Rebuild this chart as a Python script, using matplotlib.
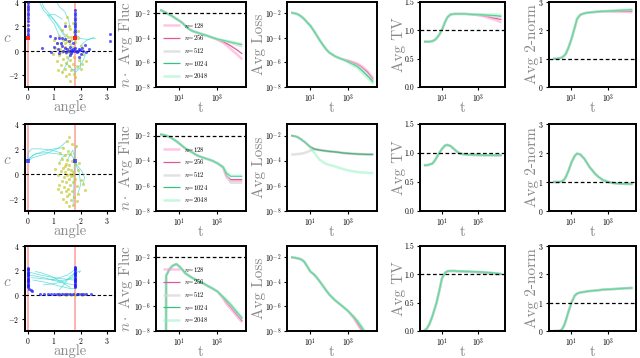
import numpy as np
import matplotlib
matplotlib.use('Agg')
import matplotlib.pyplot as plt

plt.rcParams['font.family'] = ['cmr10', 'DejaVu Serif']
plt.rcParams['mathtext.fontset'] = 'cm'
plt.rcParams['axes.formatter.use_mathtext'] = True

# ---------------- data ----------------
N_LIST = [128, 256, 512, 1024, 2048]
T = [1, 1.5, 2, 3, 4, 5, 7, 10, 15, 20, 30, 50, 70, 100, 200, 300, 500,
     1000, 2000, 3000, 5000, 10000, 20000]
T_F3 = [2, 2.05, 3, 4, 5, 7, 10, 15, 20, 30, 50, 70, 100, 200, 300, 500, 1000,
        2000, 3000, 5000, 10000, 20000]

# log10 values (log panels), common part t=1..500, tails t=1000..20000
fluc_r1_common = [-1.73, -1.85, -1.95, -2.1, -2.2, -2.3, -2.45, -2.6, -2.8, -3.0,
                  -3.25, -3.45, -3.52, -3.6, -3.75, -3.83, -3.96]
fluc_r1_tail = {128: [-4.15, -4.4, -4.6, -4.9, -5.3, -5.75],
                256: [-4.12, -4.3, -4.45, -4.65, -4.95, -5.3],
                512: [-4.1, -4.22, -4.3, -4.42, -4.55, -4.7],
                1024: [-4.1, -4.2, -4.27, -4.35, -4.45, -4.55],
                2048: [-4.1, -4.2, -4.25, -4.3, -4.4, -4.5]}
loss_r1_common = [-1.95, -2.0, -2.05, -2.2, -2.35, -2.5, -2.75, -3.0, -3.4, -3.7,
                  -4.15, -4.65, -4.95, -5.2, -5.5, -5.62, -5.75]
loss_r1_tail = {128: [-5.85, -6.0, -6.1, -6.3, -6.7, -7.3],
                256: [-5.88, -6.05, -6.17, -6.4, -6.8, -7.4],
                512: [-5.92, -6.12, -6.25, -6.5, -6.95, -7.5],
                1024: [-5.97, -6.2, -6.35, -6.65, -7.1, -7.6],
                2048: [-6.02, -6.3, -6.45, -6.8, -7.25, -7.75]}
tv_r1_common = [0.80, 0.80, 0.80, 0.81, 0.83, 0.86, 0.92, 1.01, 1.15, 1.23,
                1.28, 1.29, 1.29, 1.29, 1.29, 1.285, 1.28]
tv_r1_tail = {128: [1.265, 1.25, 1.23, 1.21, 1.18, 1.14],
              256: [1.27, 1.26, 1.25, 1.23, 1.21, 1.19],
              512: [1.275, 1.27, 1.26, 1.25, 1.24, 1.23],
              1024: [1.28, 1.275, 1.27, 1.265, 1.26, 1.25],
              2048: [1.28, 1.28, 1.28, 1.28, 1.28, 1.27]}
norm_r1_common = [1.0, 1.0, 1.01, 1.04, 1.1, 1.18, 1.4, 1.7, 2.1, 2.4,
                  2.55, 2.6, 2.62, 2.63, 2.65, 2.66, 2.67]
norm_r1_tail = {128: [2.66, 2.66, 2.65, 2.65, 2.65, 2.64],
                256: [2.67, 2.67, 2.67, 2.67, 2.67, 2.67],
                512: [2.68, 2.69, 2.69, 2.7, 2.7, 2.71],
                1024: [2.68, 2.69, 2.7, 2.71, 2.72, 2.73],
                2048: [2.69, 2.7, 2.71, 2.72, 2.73, 2.75]}

fluc_r2_common = [-1.9, -1.95, -2.0, -2.1, -2.2, -2.3, -2.45, -2.63, -2.85, -3.0,
                  -3.17, -3.35, -3.5, -3.62, -3.78, -3.87, -3.98]
fluc_r2_tail = {128: [-4.2, -4.55, -5.3, -5.6, -5.6, -5.6],
                256: [-4.2, -4.55, -5.2, -5.5, -5.5, -5.5],
                512: [-4.2, -4.5, -5.2, -5.75, -5.75, -5.75],
                1024: [-4.2, -4.5, -5.0, -5.25, -5.25, -5.25],
                2048: [-4.2, -4.5, -4.9, -5.2, -5.2, -5.2]}
loss_r2_A = [-2.0, -2.05, -2.1, -2.25, -2.4, -2.5, -2.7, -2.9, -3.05, -3.1, -3.15,
             -3.2, -3.23, -3.26, -3.3, -3.33, -3.38, -3.42, -3.45, -3.47, -3.48,
             -3.5, -3.5]
loss_r2_B_early = [-3.5, -3.5, -3.48, -3.45, -3.42, -3.38, -3.3, -3.2, -3.1, -3.1]
loss_r2_C = [-2.0, -2.05, -2.1, -2.25, -2.4, -2.5, -2.7, -2.95, -3.3, -3.55, -3.9,
             -4.15, -4.25, -4.33, -4.45, -4.55, -4.65, -4.78, -4.85, -4.9, -4.93,
             -4.96, -4.98]
tv_r2 = [0.79, 0.79, 0.80, 0.82, 0.87, 0.92, 1.0, 1.07, 1.13, 1.14, 1.12, 1.06,
         1.02, 0.99, 0.975, 0.97, 0.968, 0.965, 0.963, 0.962, 0.961, 0.96, 0.96]
norm_r2 = [1.0, 1.0, 1.0, 1.02, 1.08, 1.18, 1.4, 1.68, 1.9, 1.98, 1.95, 1.8, 1.65,
           1.5, 1.27, 1.17, 1.07, 1.0, 0.96, 0.95, 0.94, 0.935, 0.93]

fluc_r3_common = [-12.0, -3.5, -3.0, -2.76, -2.65, -2.55, -2.74, -3.03, -3.28,
                  -3.47, -3.69, -3.8, -3.96, -4.15, -4.32, -4.5, -4.78]
fluc_r3_tail = {128: [-5.35, -5.8, -6.2, -6.75, -7.3],
                256: [-5.3, -5.65, -6.05, -6.62, -7.17],
                512: [-5.25, -5.55, -5.93, -6.5, -7.05],
                1024: [-5.22, -5.5, -5.85, -6.42, -6.97],
                2048: [-5.2, -5.45, -5.8, -6.35, -6.9]}
loss_r3_common = [-2.0, -2.03, -2.07, -2.14, -2.25, -2.4, -2.75, -3.15, -3.37,
                  -3.58, -3.92, -4.4, -4.72, -5.03, -5.5, -5.72, -6.0]
loss_r3_tail = {128: [-6.4, -7.0, -7.45, -8.0, -8.9, -9.6],
                256: [-6.4, -6.95, -7.35, -7.9, -8.7, -9.4],
                512: [-6.4, -6.9, -7.25, -7.8, -8.5, -9.2],
                1024: [-6.4, -6.87, -7.2, -7.7, -8.4, -9.1],
                2048: [-6.4, -6.85, -7.15, -7.6, -8.3, -9.0]}
tv_r3_common = [0.0, 0.05, 0.12, 0.27, 0.4, 0.5, 0.7, 0.93, 1.03, 1.055, 1.06,
                1.06, 1.055, 1.055, 1.05, 1.05, 1.045]
tv_r3_tail = {128: [1.035, 1.025, 1.02, 1.015, 1.005, 1.0],
              256: [1.04, 1.03, 1.025, 1.02, 1.01, 1.005],
              512: [1.04, 1.035, 1.03, 1.025, 1.015, 1.005],
              1024: [1.045, 1.04, 1.035, 1.03, 1.02, 1.01],
              2048: [1.045, 1.04, 1.035, 1.03, 1.02, 1.01]}
norm_r3 = [0.0, 0.0, 0.0, 0.05, 0.2, 0.38, 0.7, 1.0, 1.25, 1.32, 1.36, 1.38, 1.4,
           1.41, 1.43, 1.44, 1.46, 1.47, 1.48, 1.49, 1.5, 1.51, 1.52]

# ---- column 1 scatter data ----
yellow_r1 = [(1.5, 2.8), (1.4, 2.3), (1.55, 2.0), (1.6, 1.8), (1.3, 1.7), (1.75, 1.5),
             (1.45, 1.3), (1.2, 1.2), (1.65, 1.1), (1.9, 1.0), (1.35, 0.9), (1.5, 0.8),
             (1.8, 0.7), (1.1, 0.6), (1.25, 0.5), (1.6, 0.5), (2.0, 0.4), (1.4, 0.3),
             (1.7, 0.3), (1.05, 0.2), (1.55, 0.1), (1.85, 0.0), (1.3, -0.1), (1.45, -0.2),
             (1.65, -0.2), (2.1, -0.3), (1.2, -0.4), (1.5, -0.5), (1.75, -0.5),
             (1.35, -0.7), (1.6, -0.8), (1.95, -0.8), (1.1, -0.9), (1.45, -1.0),
             (1.7, -1.1), (1.25, -1.2), (1.55, -1.3), (1.85, -1.3), (1.4, -1.5),
             (1.65, -1.6), (2.0, -1.5), (1.3, -1.8), (1.55, -1.9), (1.75, -1.9),
             (1.45, -2.1), (1.6, -2.5), (2.2, -0.9), (0.95, -0.3), (1.15, -1.6),
             (1.9, 1.6), (1.8, -2.2), (2.05, -1.1), (1.0, 0.9), (1.7, 2.3), (1.35, 0.0),
             (1.58, -0.1), (1.52, 1.1), (1.23, 0.1), (1.62, 0.9), (1.42, 0.6)]
blue_r1 = [(0, 3.9), (0, 3.7), (0, 3.5), (0, 3.3), (0, 3.1), (0, 2.9), (0, 2.7),
           (0, 2.4), (0, 2.1), (0, 1.8), (0, 1.6), (0, 1.4), (0, 1.2), (0, 1.0),
           (1.78, 3.3), (1.78, 3.1), (1.78, 2.9), (1.78, 2.7), (1.78, 2.5), (1.78, 2.3),
           (1.78, 2.1), (1.78, 1.9), (1.78, 1.7), (1.78, 1.5), (1.78, 1.3), (1.78, 1.1),
           (1.0, 0.3), (1.1, 0.6), (1.15, 0.1), (1.2, -0.2), (1.3, 0.4), (1.35, 0.0),
           (1.4, 0.2), (1.45, -0.1), (1.5, 0.1), (1.55, 0.0), (1.6, 0.3), (1.65, -0.2),
           (1.7, 0.1), (1.75, 0.0), (1.8, 0.2), (1.85, -0.1), (1.9, 0.0), (1.95, 0.1),
           (2.0, -0.3), (2.05, 0.2), (2.1, 0.0), (2.2, -0.1), (2.3, 0.1), (0.55, 0.2),
           (0.9, -0.1), (1.25, 0.6), (1.05, 1.0), (1.3, 1.0), (1.4, 0.95), (1.7, 0.6),
           (1.55, 0.75), (2.15, 0.45), (1.95, -0.5), (1.6, -0.4), (0.85, 1.2),
           (1.2, 1.05), (1.4, 2.0), (3.1, 1.4), (3.1, 0.8), (1.62, 0.05), (1.82, -0.05),
           (1.98, 0.05), (1.68, -0.02)]
traj_r1 = [[(1.5, 0.8), (1.3, 1.5), (1.0, 2.5), (0.6, 3.3), (0.4, 4.2)],
           [(1.4, 1.3), (1.2, 2.0), (0.9, 2.8), (0.6, 3.6), (0.5, 4.2)],
           [(1.6, 1.8), (1.55, 2.5), (1.4, 3.2), (1.2, 3.6), (1.05, 4.2)],
           [(1.8, 0.7), (1.9, 1.2), (2.0, 1.0), (2.3, 0.9), (2.5, 1.1)],
           [(1.65, -1.6), (1.9, -1.5), (2.1, -0.8), (2.2, -0.2)],
           [(1.3, -1.8), (1.5, -1.0), (1.6, -0.3), (1.7, 0.0)],
           [(1.75, 1.5), (1.78, 2.3), (1.78, 3.0)],
           [(1.2, 1.2), (1.0, 2.2), (0.75, 2.9), (1.0, 3.0), (1.3, 2.6)],
           [(2.0, 0.4), (2.2, 0.8), (2.4, 1.0), (2.55, 1.0)],
           [(1.45, -1.0), (1.8, -1.8), (2.0, -1.4), (2.0, -0.6)]]
red_r1 = [(0, 1.0), (1.78, 1.0)]

yellow_r2 = [(1.56, 2.95), (1.47, 2.6), (1.66, 2.4), (1.34, 2.1), (1.84, 2.26),
             (1.22, 1.7), (1.53, 1.85), (1.40, 1.5), (1.60, 1.6), (1.75, 1.3),
             (1.30, 1.2), (1.50, 1.1), (1.68, 1.0), (1.20, 0.9), (1.45, 0.8),
             (1.58, 0.7), (1.80, 0.8), (1.35, 0.5), (1.52, 0.4), (1.65, 0.3),
             (1.25, 0.2), (1.42, 0.1), (1.72, 0.1), (1.90, 0.3), (1.15, -0.1),
             (1.48, -0.1), (1.62, -0.2), (1.38, -0.3), (1.55, -0.4), (1.78, -0.4),
             (2.00, -0.5), (1.28, -0.6), (1.46, -0.7), (1.70, -0.7), (1.18, -0.9),
             (1.60, -0.9), (1.85, -1.0), (1.36, -1.1), (1.52, -1.2), (2.10, -0.8),
             (1.44, -1.4), (1.66, -1.4), (1.25, -1.5), (1.58, -1.6), (1.92, -1.6),
             (1.15, -1.2), (1.50, -1.8), (1.74, -1.9), (1.32, -2.0), (1.62, -2.1),
             (1.88, -2.2), (1.45, -2.3), (1.72, -2.5), (1.55, -2.6), (1.60, 0.0),
             (1.40, 0.6), (1.72, -0.1), (2.15, -1.3), (1.05, 0.4), (1.95, 0.9)]
traj_r2 = [[(1.22, 1.7), (0.9, 1.9), (0.5, 2.0), (0.15, 2.0), (0.02, 1.7), (0, 1.0)],
           [(1.34, 2.1), (1.0, 2.0), (0.6, 1.8), (0.2, 1.5), (0.05, 1.2), (0, 1.0)],
           [(1.4, 1.5), (1.1, 1.6), (0.7, 1.7), (0.3, 1.6), (0.1, 1.3), (0, 1.0)],
           [(1.5, 1.1), (1.6, 1.5), (1.7, 1.9), (1.78, 1.3), (1.77, 1.0)],
           [(1.2, 0.9), (1.3, 1.3), (1.5, 1.6), (1.7, 1.4), (1.77, 1.0)],
           [(2.1, -0.8), (2.15, -0.3), (2.05, 0.2), (1.9, 0.6), (1.77, 1.0)],
           [(1.72, -2.5), (1.74, -1.2), (1.75, 0.0), (1.77, 1.0)],
           [(1.9, -1.6), (2.0, -0.9), (1.95, 0.1), (1.8, 0.8), (1.77, 1.0)],
           [(1.84, 2.26), (1.8, 1.8), (1.78, 1.3), (1.77, 1.0)],
           [(1.47, 2.6), (1.2, 2.1), (0.7, 1.6), (0.2, 1.3), (0, 1.0)]]
blue_r2 = [(0, 1.0), (1.77, 1.0)]

blue_r3 = [(0, 2.2), (0, 2.1), (0, 2.0), (0, 1.9), (0, 1.8), (0, 1.7), (0, 1.6),
           (0, 1.5), (0, 1.4), (0, 1.3), (0, 1.2), (0, 1.1), (0, 1.0), (0, 0.9),
           (0, 0.8), (0, 0.7), (0, 0.6), (0.06, 0.5), (0.13, 0.36), (0.18, 0.28),
           (1.77, 2.3), (1.77, 2.2), (1.77, 2.1), (1.77, 2.0), (1.77, 1.9), (1.77, 1.8),
           (1.77, 1.7), (1.77, 1.6), (1.77, 1.5), (1.77, 1.4), (1.77, 1.3), (1.77, 1.2),
           (1.77, 1.1), (1.77, 1.0), (1.77, 0.9), (1.77, 0.8), (1.77, 0.7), (1.77, 0.6),
           (0.45, 0.05), (0.6, 0.03), (0.75, 0.02), (0.9, 0.03), (1.0, 0.02),
           (1.1, 0.02), (1.2, 0.03), (1.3, 0.02), (1.4, 0.02), (1.5, 0.03), (1.6, 0.02),
           (1.7, 0.03), (1.85, 0.02), (1.9, 0.03), (2.0, 0.02), (2.1, 0.02),
           (2.2, 0.03), (2.4, 0.02)]
yellow_r3 = [(1.2, 0.0), (1.35, 0.02), (1.45, -0.02), (1.55, 0.01), (1.65, 0.0),
             (1.75, 0.02), (1.8, -0.01), (1.95, 0.01), (2.05, 0.0), (2.15, 0.02)]
traj_r3 = [[(0.05, 1.85), (0.5, 1.6), (1.0, 1.4), (1.5, 1.25), (1.75, 1.2)],
           [(0.1, 1.6), (0.6, 1.4), (1.1, 1.1), (1.5, 0.9), (1.75, 0.8)],
           [(0.2, 1.2), (0.7, 1.0), (1.2, 0.7), (1.6, 0.5), (1.76, 0.5)],
           [(0.6, 0.8), (1.0, 0.9), (1.4, 1.1), (1.7, 1.5), (1.76, 1.8)],
           [(0.9, 1.2), (1.2, 1.4), (1.5, 1.6), (1.75, 2.0)],
           [(1.2, 0.4), (1.4, 0.9), (1.6, 1.5), (1.8, 1.8), (2.0, 1.95), (1.95, 1.8)],
           [(0.3, 1.9), (0.5, 1.8), (0.9, 1.5), (1.3, 1.0), (1.6, 0.6)],
           [(0.15, 1.4), (0.8, 1.25), (1.3, 1.15), (1.76, 1.4)]]

# ---------------- styles ----------------
STYLE = {128: dict(color='#ff9fd0', lw=1.8, alpha=0.6),
         256: dict(color='#e0589c', lw=0.9, alpha=1.0),
         512: dict(color='#d6d6d6', lw=1.8, alpha=0.7),
         1024: dict(color='#35c27c', lw=0.9, alpha=1.0),
         2048: dict(color='#8ef2bf', lw=1.8, alpha=0.5)}
LABEL_COLOR = '#8a8a8a'
W, H = 640, 358
COLS = [(25, 115), (156, 246), (287, 377), (420, 505), (549, 636)]
ROWS = [(2, 87), (124, 211), (246, 331)]

fig = plt.figure(figsize=(6.4, 3.58), dpi=100)


def make_ax(r, c):
    l, rr = COLS[c]
    t, b = ROWS[r]
    ax = fig.add_axes([l / W, 1 - b / H, (rr - l) / W, (b - t) / H])
    for s in ax.spines.values():
        s.set_linewidth(1.4)
        s.set_color('black')
    ax.tick_params(labelsize=5.5, length=2.5, width=0.8, pad=1.5)
    return ax


def series_full(common, tail):
    return {n: list(common) + list(tail[n]) for n in N_LIST}


def line_panel(ax, t, data, log, ylabel, dashed=None, legend=False):
    for n in N_LIST:
        y = np.array(data[n], dtype=float)
        if log:
            y = 10.0 ** y
        ax.plot(t, y, label=r'$n$=%d' % n, solid_capstyle='butt', **STYLE[n])
    ax.set_xscale('log')
    ax.set_xlim(10 ** -0.22, 10 ** 4.5)
    ax.set_xticks([10, 1000])
    ax.set_xticklabels([r'$10^{1}$', r'$10^{3}$'])
    ax.minorticks_off()
    if log:
        ax.set_yscale('log')
        ax.set_ylim(1e-8, 10 ** -1.08)
        ax.set_yticks([1e-8, 1e-6, 1e-4, 1e-2])
        ax.set_yticklabels([r'$10^{-8}$', r'$10^{-6}$', r'$10^{-4}$', r'$10^{-2}$'])
        ax.minorticks_off()
    if dashed is not None:
        ax.axhline(dashed, color='black', lw=0.9, ls=(0, (3, 2)))
    ax.set_xlabel('t', color=LABEL_COLOR, fontsize=11, labelpad=-3)
    ax.set_ylabel(ylabel, color=LABEL_COLOR, fontsize=11, labelpad=-1)
    if legend:
        ax.legend(loc='lower left', bbox_to_anchor=(0.0, 0.0), frameon=False,
                  fontsize=4.8, handlelength=2.6, labelspacing=0.55,
                  handletextpad=0.6, borderaxespad=0.6)


def scatter_panel(ax, yellow, blue, trajs, red=None, blue_big=False):
    ax.axvline(0, color='#ff7070', alpha=0.55, lw=1.4, zorder=1)
    ax.axvline(1.77, color='#ff7070', alpha=0.55, lw=1.4, zorder=1)
    ax.axhline(0, color='black', lw=0.8, ls=(0, (3, 2)), zorder=1)
    for tr in trajs:
        xs, ys = zip(*tr)
        ax.plot(xs, ys, color='#3ad8d8', lw=0.6, alpha=0.7, zorder=2)
    if yellow:
        yx, yy = zip(*yellow)
        ax.scatter(yx, yy, s=5, color='#c6c62a', alpha=0.65, lw=0, zorder=3)
    bx, by = zip(*blue)
    ax.scatter(bx, by, s=12 if blue_big else 5, color='#1a1aff', alpha=0.7,
               lw=0, marker='s' if blue_big else 'o', zorder=4)
    if red:
        rx, ry = zip(*red)
        ax.scatter(rx, ry, s=7, color='#ff2020', marker='s', lw=0, zorder=5)
    ax.set_xlim(-0.1, 3.3)
    ax.set_ylim(-3, 4)
    ax.set_xticks([0, 1, 2, 3])
    ax.set_yticks([-2, 0, 2, 4])
    ax.tick_params(axis='x', pad=1)
    ax.set_xlabel('angle', color=LABEL_COLOR, fontsize=10.5, labelpad=-1)
    ax.set_ylabel(r'$c$', color=LABEL_COLOR, fontsize=11, rotation=0)
    ax.yaxis.set_label_coords(-0.2, 0.5)


# row 1
ax = make_ax(0, 0)
scatter_panel(ax, yellow_r1, blue_r1, traj_r1, red=red_r1)
ax = make_ax(0, 1)
line_panel(ax, T, series_full(fluc_r1_common, fluc_r1_tail), True,
           r'$n \cdot$ Avg Fluc', dashed=1e-2, legend=True)
ax = make_ax(0, 2)
line_panel(ax, T, series_full(loss_r1_common, loss_r1_tail), True, 'Avg Loss')
ax = make_ax(0, 3)
line_panel(ax, T, series_full(tv_r1_common, tv_r1_tail), False, 'Avg TV', dashed=1.0)
ax.set_ylim(0, 1.5)
ax.set_yticks([0, 0.5, 1.0, 1.5])
ax.set_yticklabels(['0.0', '0.5', '1.0', '1.5'])
ax = make_ax(0, 4)
line_panel(ax, T, series_full(norm_r1_common, norm_r1_tail), False, 'Avg 2-norm',
           dashed=1.0)
ax.set_ylim(0, 3)
ax.set_yticks([0, 1, 2, 3])

# row 2
ax = make_ax(1, 0)
scatter_panel(ax, yellow_r2, blue_r2, traj_r2, blue_big=True)
ax = make_ax(1, 1)
line_panel(ax, T, series_full(fluc_r2_common, fluc_r2_tail), True,
           r'$n \cdot$ Avg Fluc', dashed=1e-2, legend=True)
ax = make_ax(1, 2)
loss_r2_B = loss_r2_B_early + loss_r2_A[len(loss_r2_B_early):]
line_panel(ax, T, {128: loss_r2_A, 256: loss_r2_A, 512: loss_r2_B,
                   1024: loss_r2_A, 2048: loss_r2_C}, True, 'Avg Loss')
ax = make_ax(1, 3)
line_panel(ax, T, {n: tv_r2 for n in N_LIST}, False, 'Avg TV', dashed=1.0)
ax.set_ylim(0, 1.5)
ax.set_yticks([0, 0.5, 1.0, 1.5])
ax.set_yticklabels(['0.0', '0.5', '1.0', '1.5'])
ax = make_ax(1, 4)
line_panel(ax, T, {n: norm_r2 for n in N_LIST}, False, 'Avg 2-norm', dashed=1.0)
ax.set_ylim(0, 3)
ax.set_yticks([0, 1, 2, 3])

# row 3
ax = make_ax(2, 0)
scatter_panel(ax, yellow_r3, blue_r3, traj_r3)
ax = make_ax(2, 1)
line_panel(ax, T_F3, series_full(fluc_r3_common, fluc_r3_tail), True,
           r'$n \cdot$ Avg Fluc', dashed=1e-2, legend=True)
ax = make_ax(2, 2)
line_panel(ax, T, series_full(loss_r3_common, loss_r3_tail), True, 'Avg Loss')
ax = make_ax(2, 3)
line_panel(ax, T, series_full(tv_r3_common, tv_r3_tail), False, 'Avg TV', dashed=1.0)
ax.set_ylim(0, 1.5)
ax.set_yticks([0, 0.5, 1.0, 1.5])
ax.set_yticklabels(['0.0', '0.5', '1.0', '1.5'])
ax = make_ax(2, 4)
line_panel(ax, T, {n: norm_r3 for n in N_LIST}, False, 'Avg 2-norm', dashed=1.0)
ax.set_ylim(0, 3)
ax.set_yticks([0, 1, 2, 3])

fig.savefig('out.png', dpi=100)
